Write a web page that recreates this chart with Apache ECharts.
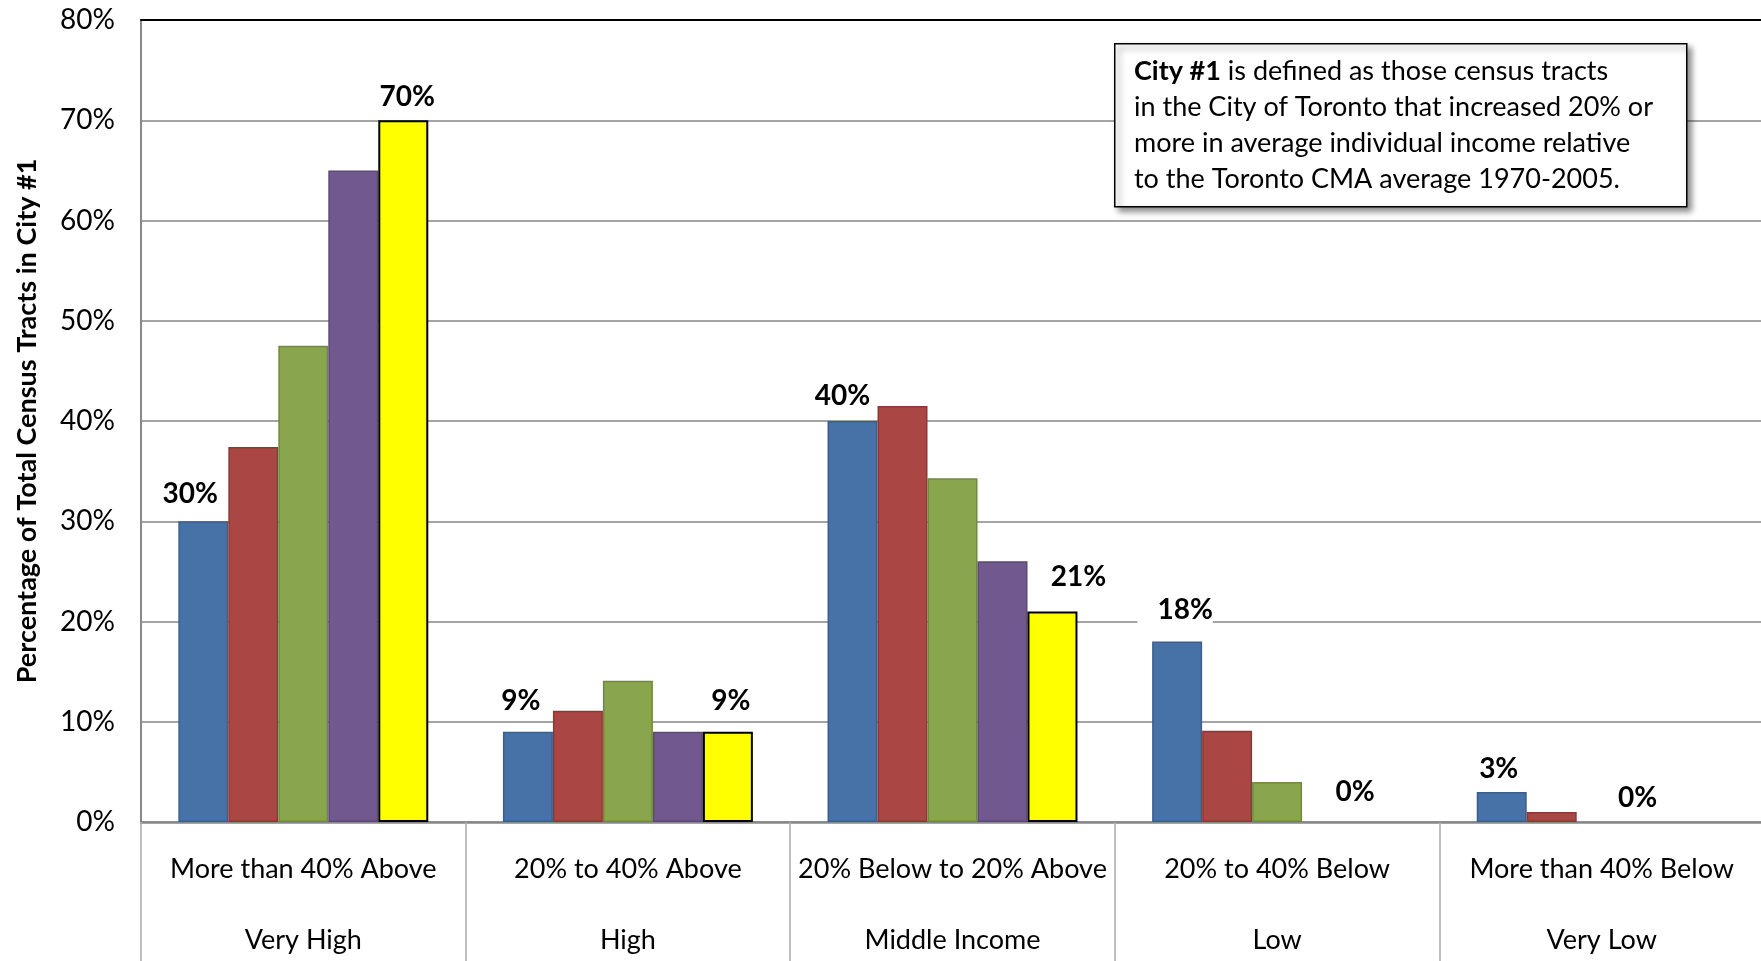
<!DOCTYPE html>
<html>
<head>
<meta charset="utf-8">
<script src="https://cdn.jsdelivr.net/npm/echarts@6/dist/echarts.min.js"></script>
<style>
    html, body { margin: 0; padding: 0; background: #fff; }
    #chart { width: 1761px; height: 961px; }
</style>
</head>
<body>
<div id="chart"></div>
<script>
// categories (two-level axis)
var incomeRanges = ['More than 40% Above', '20% to 40% Above', '20% Below to 20% Above', '20% to 40% Below', 'More than 40% Below'];
var incomeLevels = ['Very High', 'High', 'Middle Income', 'Low', 'Very Low'];

// bar values, % of census tracts
var series1 = [30, 9, 40, 18, 3];
var series2 = [37.4, 11.1, 41.5, 9.1, 1];
var series3 = [47.5, 14.1, 34.3, 4, 0];
var series4 = [65, 9, 26, 0, 0];
var series5 = [70, 9, 21, 0, 0];

(function () {
    var myChart = echarts.init(document.getElementById('chart'));
    var font = 'Lato, "Open Sans", sans-serif';

    // which bars carry a value label, and how it is nudged
    var labelOffsets = {
        0: [[-13, -8], [-7, -12], [-10, -6], [-2, -11], [-3, -4]],
        4: [[4, -4], [3, -12], [26, -16], [-22, -11], [-64, -5]]
    };

    var colors = ['#4672A8', '#AA4744', '#89A54E', '#71598F', '#FFFF00'];
    var borders = ['#3B5F8C', '#8C3936', '#71893F', '#5C4976', '#000000'];
    var values = [series1, series2, series3, series4, series5];

    function buildData(idx) {
        return values[idx].map(function (v, i) {
            var item = { value: v };
            if (v === 0) {
                item.itemStyle = { borderWidth: 0 };
            }
            if (labelOffsets[idx]) {
                item.label = {
                    show: true,
                    position: 'top',
                    offset: labelOffsets[idx][i]
                };
                // the 18% label hides the gridline behind it
                if (idx === 0 && i === 3) {
                    item.label.backgroundColor = '#fff';
                    item.label.padding = [2, 0, 2, 20];
                }
            }
            return item;
        });
    }

    var series = values.map(function (v, idx) {
        return {
            name: 'Series ' + (idx + 1),
            type: 'bar',
            barGap: '0%',
            barCategoryGap: '23%',
            itemStyle: {
                color: colors[idx],
                borderColor: borders[idx],
                borderWidth: idx === 4 ? 2 : 1.5
            },
            label: {
                show: false,
                fontFamily: font,
                fontWeight: 'bold',
                fontSize: 28,
                color: '#000',
                formatter: function (p) { return Math.round(p.value) + '%'; }
            },
            data: buildData(idx)
        };
    });

    var option = {
        animation: false,
        grid: {
            left: 141,
            right: -3,
            top: 20,
            bottom: 139,
            outerBoundsMode: 'none',
            containLabel: false
        },
        xAxis: [
            {
                type: 'category',
                data: incomeRanges,
                axisLine: { lineStyle: { color: '#888', width: 2.5 } },
                axisTick: {
                    show: true,
                    length: 140,
                    lineStyle: { color: '#aaa', width: 1.5 }
                },
                axisLabel: {
                    interval: 0,
                    margin: 12,
                    fontFamily: font,
                    fontSize: 27,
                    color: '#000',
                    lineHeight: 71,
                    formatter: function (val, i) {
                        return val + '\n' + incomeLevels[i];
                    }
                }
            },
            {
                type: 'category',
                position: 'top',
                data: incomeRanges,
                axisLine: { lineStyle: { color: '#000', width: 2 } },
                axisTick: { show: false },
                axisLabel: { show: false }
            }
        ],
        yAxis: {
            type: 'value',
            min: 0,
            max: 80,
            interval: 10,
            name: 'Percentage of Total Census Tracts in City #1',
            nameLocation: 'middle',
            nameGap: 100,
            nameTextStyle: {
                fontFamily: font,
                fontWeight: 'bold',
                fontSize: 27,
                color: '#000'
            },
            axisLine: { show: true, lineStyle: { color: '#888', width: 2 } },
            axisTick: { show: false },
            splitLine: { lineStyle: { color: '#868686', width: 1.5 } },
            axisLabel: {
                margin: 26,
                fontFamily: font,
                fontSize: 28,
                color: '#000',
                formatter: '{value}%'
            }
        },
        graphic: [
            {
                type: 'rect',
                left: 1114,
                top: 43,
                shape: { width: 572, height: 163 },
                style: {
                    fill: '#fff',
                    stroke: '#000',
                    lineWidth: 1.5,
                    shadowColor: 'rgba(0,0,0,0.45)',
                    shadowBlur: 6,
                    shadowOffsetX: 4,
                    shadowOffsetY: 4
                },
                z: 100
            },
            {
                type: 'text',
                left: 1134,
                top: 53,
                z: 101,
                style: {
                    text: '{b|City #1} is defined as those census tracts\nin the City of Toronto that increased 20% or\nmore in average individual income relative\nto the Toronto CMA average 1970-2005.',
                    font: '27px ' + font,
                    fill: '#000',
                    lineHeight: 36,
                    rich: {
                        b: { fontWeight: 'bold', fontSize: 27, fontFamily: font, lineHeight: 36 }
                    }
                }
            }
        ],
        series: series
    };

    myChart.setOption(option);
})();
</script>
</body>
</html>
